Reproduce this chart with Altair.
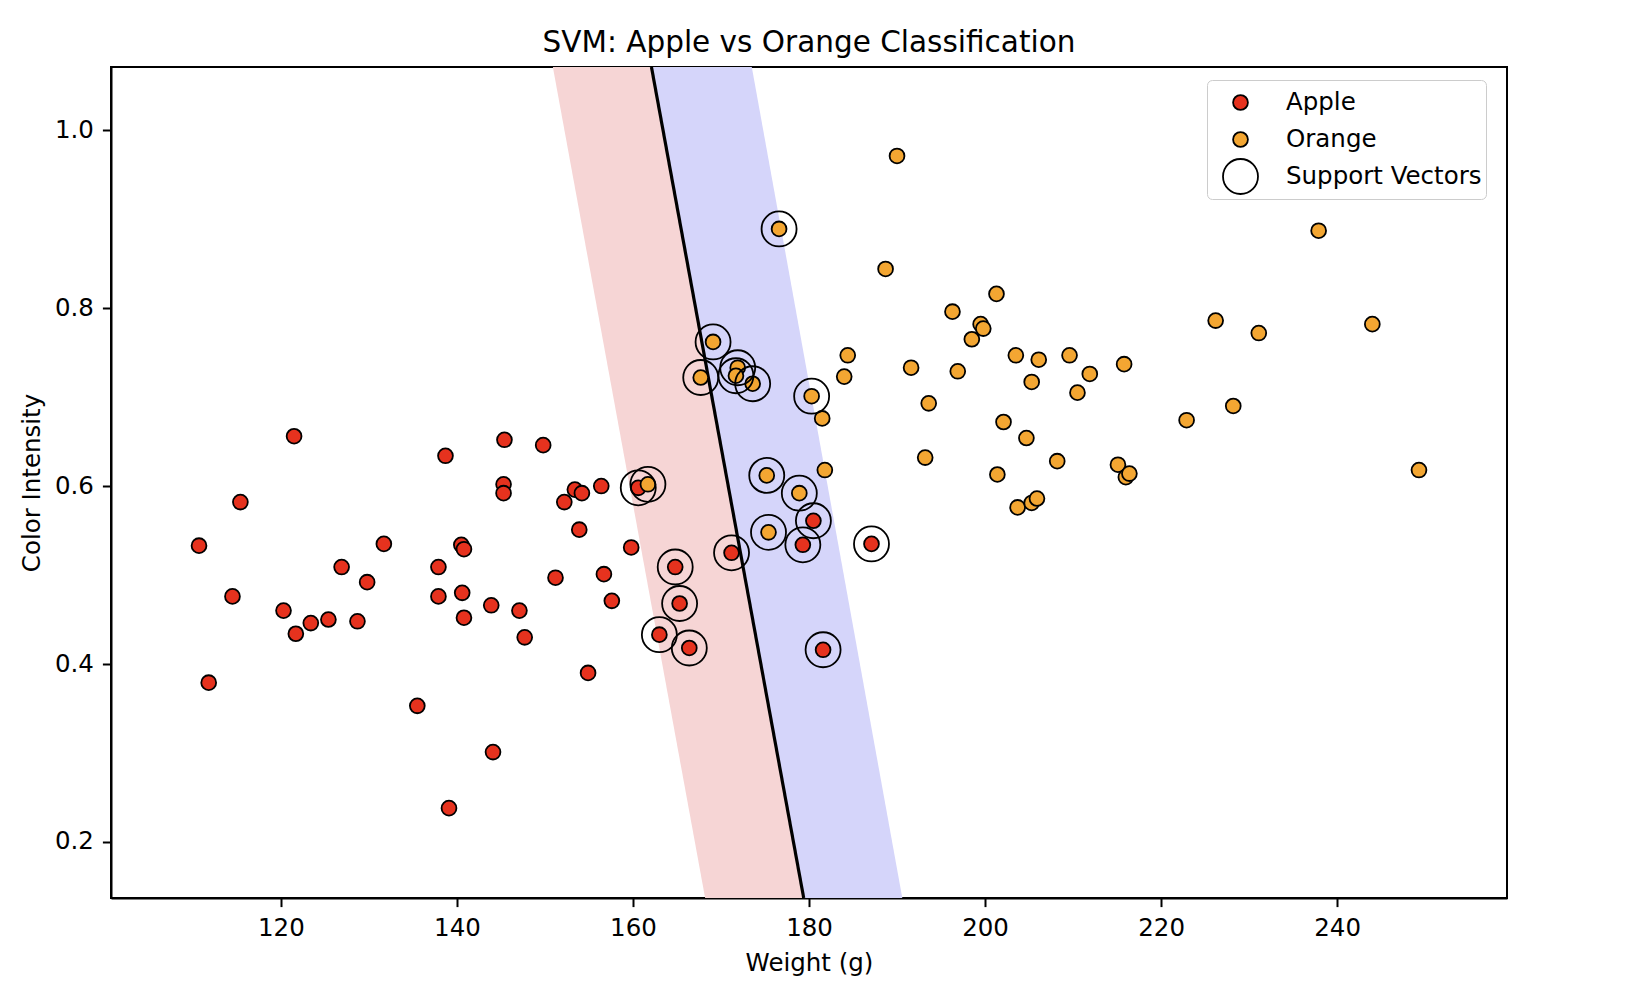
import altair as alt
import pandas as pd

# ---------------- data ----------------
apple_weight = [110.7, 115.4, 114.5, 111.8, 120.3, 121.7, 123.4, 125.4, 126.9, 128.7,
                129.8, 131.7, 135.5, 137.9, 137.9, 138.7, 139.1, 140.5, 140.8, 140.6,
                140.8, 143.9, 144.1, 145.3, 145.3, 147.1, 147.7, 151.2, 152.2, 153.4,
                154.2, 153.9, 154.9, 156.4, 156.7, 157.6, 159.8, 121.5, 145.4, 149.8,
                160.6, 164.8, 165.3, 163.0, 166.4, 171.2, 180.5, 179.3, 187.1, 181.6]
apple_color = [0.533, 0.582, 0.476, 0.379, 0.460, 0.434, 0.446, 0.450, 0.509, 0.448,
               0.492, 0.535, 0.353, 0.509, 0.476, 0.634, 0.238, 0.534, 0.529, 0.480,
               0.452, 0.466, 0.301, 0.602, 0.592, 0.460, 0.430, 0.497, 0.582, 0.596,
               0.592, 0.551, 0.390, 0.600, 0.501, 0.471, 0.531, 0.656, 0.652, 0.646,
               0.598, 0.509, 0.468, 0.433, 0.418, 0.525, 0.561, 0.534, 0.535, 0.416]

orange_weight = [161.7, 175.2, 178.9, 175.4, 176.6, 169.1, 167.7, 171.9, 171.7, 173.6,
                 180.3, 181.8, 193.2, 201.4, 208.2, 203.7, 205.3, 205.9, 190.0, 188.7,
                 201.3, 196.3, 199.5, 199.8, 198.5, 181.5, 184.4, 184.0, 191.6, 196.9,
                 193.6, 203.5, 206.1, 209.6, 211.9, 205.3, 210.5, 202.1, 204.7, 237.9,
                 226.2, 231.1, 244.0, 215.8, 228.2, 222.9, 215.1, 216.0, 216.4, 249.3]
orange_color = [0.602, 0.612, 0.592, 0.548, 0.889, 0.762, 0.722, 0.733, 0.724, 0.715,
                0.701, 0.618, 0.632, 0.613, 0.628, 0.576, 0.581, 0.586, 0.971, 0.844,
                0.816, 0.796, 0.782, 0.777, 0.765, 0.676, 0.747, 0.723, 0.733, 0.729,
                0.693, 0.747, 0.742, 0.747, 0.726, 0.717, 0.705, 0.672, 0.654, 0.887,
                0.786, 0.772, 0.782, 0.737, 0.690, 0.674, 0.624, 0.610, 0.614, 0.618]

# indices of the support vectors inside each class list
sv_apple_idx = [40, 41, 42, 43, 44, 45, 46, 47, 48, 49]
sv_orange_idx = [0, 1, 2, 3, 4, 5, 6, 7, 8, 9, 10]

# decision boundary and margins (weight at the bottom / top of the plot)
boundary_intensity = [0.137, 1.071]
boundary_weight = [179.4, 162.1]
margin_apple_weight = [168.2, 150.9]
margin_orange_weight = [190.6, 173.5]

x_domain = [100.7, 259.3]
y_domain = [0.137, 1.071]
x_ticks = [120, 140, 160, 180, 200, 220, 240]
y_ticks = [0.2, 0.4, 0.6, 0.8, 1.0]

legend_labels = ["Apple", "Orange", "Support Vectors"]
legend_fills = ["#E6321E", "#F3A632", "transparent"]
legend_sizes = [220, 220, 1225]

# ---------------- tables ----------------
rows = []
k = 0
for w, c in zip(apple_weight, apple_color):
    rows.append({"weight": w, "intensity": c, "label": "Apple", "draw": k}); k += 1
for w, c in zip(orange_weight, orange_color):
    rows.append({"weight": w, "intensity": c, "label": "Orange", "draw": k}); k += 1
for i in sv_apple_idx:
    rows.append({"weight": apple_weight[i], "intensity": apple_color[i],
                 "label": "Support Vectors", "draw": k}); k += 1
for i in sv_orange_idx:
    rows.append({"weight": orange_weight[i], "intensity": orange_color[i],
                 "label": "Support Vectors", "draw": k}); k += 1
scatter_df = pd.DataFrame(rows)

band_df = pd.DataFrame({
    "intensity": boundary_intensity,
    "mid": boundary_weight,
    "lo": margin_apple_weight,
    "hi": margin_orange_weight,
})

FONT = "DejaVu Sans"
xs = alt.Scale(domain=x_domain, nice=False, zero=False)
ys = alt.Scale(domain=y_domain, nice=False, zero=False)
x_axis = alt.Axis(values=x_ticks, format="d")
y_axis = alt.Axis(values=y_ticks, format=".1f")

pink = alt.Chart(band_df).mark_area(orient="horizontal", color="#F6D5D5", clip=True).encode(
    y=alt.Y("intensity:Q", scale=ys, axis=y_axis, title="Color Intensity"),
    x=alt.X("lo:Q", scale=xs, axis=x_axis, title="Weight (g)"),
    x2="mid:Q",
)
blue = alt.Chart(band_df).mark_area(orient="horizontal", color="#D5D5FA", clip=True).encode(
    y=alt.Y("intensity:Q", scale=ys, axis=y_axis, title="Color Intensity"),
    x=alt.X("mid:Q", scale=xs, axis=x_axis, title="Weight (g)"),
    x2="hi:Q",
)
line = alt.Chart(band_df).mark_line(color="black", strokeWidth=3.2, clip=True).encode(
    y=alt.Y("intensity:Q", scale=ys, axis=y_axis, title="Color Intensity"),
    x=alt.X("mid:Q", scale=xs, axis=x_axis, title="Weight (g)"),
    order=alt.Order("intensity:Q"),
)

legend = alt.Legend(
    title=None, orient="none", legendX=1096, legendY=13,
    symbolType="circle", symbolStrokeWidth=1.8,
    symbolOffset=11, clipHeight=37, rowPadding=0, padding=4,
    labelFont=FONT, labelFontSize=24.5, labelColor="black", labelOffset=27, labelLimit=400,
    fillColor="white", strokeColor="#CCCCCC", cornerRadius=5,
)

points = alt.Chart(scatter_df).mark_point(shape="circle", filled=True, stroke="black",
                                          strokeWidth=1.8, opacity=1).encode(
    x=alt.X("weight:Q", scale=xs, axis=x_axis, title="Weight (g)"),
    y=alt.Y("intensity:Q", scale=ys, axis=y_axis, title="Color Intensity"),
    fill=alt.Fill("label:N", scale=alt.Scale(domain=legend_labels, range=legend_fills), legend=legend),
    size=alt.Size("label:N", scale=alt.Scale(type="ordinal", domain=legend_labels, range=legend_sizes),
                  legend=legend),
    order=alt.Order("draw:Q"),
)

chart = alt.layer(pink, blue, line, points).properties(
    width=1396, height=831,
    autosize=alt.AutoSizeParams(type="none"),
    padding={"left": 103, "top": 59, "right": 120, "bottom": 80},
    title=alt.TitleParams("SVM: Apple vs Orange Classification", font=FONT, fontSize=29.5,
                          fontWeight="normal", color="black", offset=9, anchor="middle"),
).configure_view(stroke="black", strokeWidth=2).configure_axis(
    labelFont=FONT, labelFontSize=24.5, labelColor="black",
    titleFont=FONT, titleFontSize=24.5, titleFontWeight="normal", titleColor="black",
    tickSize=8.6, tickWidth=2, tickColor="black", domainColor="black", domainWidth=2,
    grid=False, labelPadding=9,
).configure_axisX(labelPadding=10, titlePadding=11).configure_axisY(labelPadding=9, titlePadding=10)

chart.save("out.html", embed_options={"renderer": "svg", "actions": False})
